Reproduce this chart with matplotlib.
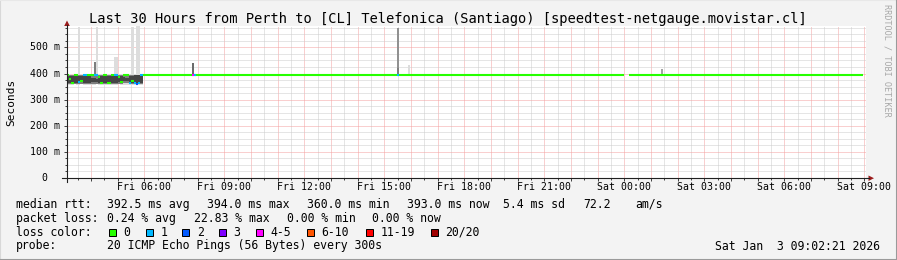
import matplotlib
matplotlib.use("Agg")
import matplotlib.pyplot as plt
from matplotlib.lines import Line2D
from matplotlib.patches import Rectangle, Polygon
from matplotlib.ticker import MultipleLocator, FixedLocator

W, H, DPI = 897, 260, 100
MONO = "DejaVu Sans Mono"

# ---------------- data (hours since Fri 00:00, latency in ms) ----------------
STEP_H = 5 / 60
X_START, X_END = 3.10, 33.064
Y_MAX_MS = 582

early_start = 3.10
early_median = [393, 378, 362, 393, 393, 368, 372, 393, 393, 393,
                393, 393, 393, 393, 385, 362, 393, 393, 362, 362,
                393, 393, 393, 385, 368, 393, 393, 393, 362, 372,
                362, 360, 362, 393]
early_loss = [0, 0, 0, 0, 0, 1, 0, 1, 1, 0,
              0, 0, 1, 1, 0, 0, 0, 0, 0, 0,
              0, 1, 1, 0, 0, 0, 0, 0, 1, 0,
              1, 2, 1, 1]
early_min = [358, 357, 358, 359, 358, 358, 359, 358, 358, 358,
             357, 358, 358, 359, 358, 358, 357, 358, 358, 358,
             358, 358, 358, 359, 358, 358, 358, 358, 358, 358,
             357, 356, 357, 358]
early_max = [397, 397, 396, 397, 397, 578, 397, 397, 397, 397,
             397, 397, 444, 578, 397, 397, 397, 397, 397, 397,
             397, 463, 463, 397, 397, 397, 397, 397, 397, 580,
             397, 582, 582, 397]
early_mid_lo = [360, 359, 360, 361, 360, 360, 361, 360, 360, 360,
                359, 360, 360, 361, 360, 360, 359, 360, 360, 360,
                360, 360, 360, 361, 360, 362, 364, 364, 360, 360,
                359, 358, 359, 360]
early_mid_hi = [395, 395, 394, 395, 395, 395, 394, 395, 395, 395,
                395, 395, 444, 395, 394, 395, 395, 395, 394, 395,
                395, 395, 395, 395, 394, 394, 392, 392, 395, 395,
                395, 396, 396, 395]
early_core_lo = [363, 362, 364, 365, 363, 363, 366, 363, 363, 364,
                 362, 366, 366, 366, 364, 363, 362, 364, 363, 363,
                 364, 363, 363, 366, 365, 370, 370, 370, 363, 365,
                 362, 361, 362, 363]
early_core_hi = [392, 391, 390, 392, 392, 391, 389, 392, 392, 392,
                 391, 382, 382, 380, 390, 392, 392, 392, 390, 391,
                 392, 392, 392, 390, 389, 386, 384, 384, 392, 390,
                 393, 393, 393, 392]

steady_start = [5.933, 24.17]
steady_end = [24.00, 32.95]
steady_median = [393, 393]
steady_loss = [0, 0]

event_time = [7.77, 7.85, 15.47]
event_median = [393, 393, 393]
event_loss = [4, 1, 1]

spike_time = [7.77, 15.47, 15.47, 15.87, 25.37]
spike_lo = [393, 393, 393, 393, 393]
spike_hi = [439, 575, 420, 434, 419]
spike_layer = [7, 5, 6, 1, 4]

x_tick_hours = [6, 9, 12, 15, 18, 21, 24, 27, 30, 33]
x_tick_labels = ["Fri 06:00", "Fri 09:00", "Fri 12:00", "Fri 15:00", "Fri 18:00",
                 "Fri 21:00", "Sat 00:00", "Sat 03:00", "Sat 06:00", "Sat 09:00"]
y_ticks = [0, 100, 200, 300, 400, 500]
y_tick_labels = ["0  ", "100 m", "200 m", "300 m", "400 m", "500 m"]

loss_max = [0, 1, 2, 3, 5, 10, 19, 20]
loss_labels = ["0", "1", "2", "3", "4-5", "6-10", "11-19", "20/20"]
loss_colors = ["#26ff00", "#00b8ff", "#0059ff", "#7e00ff",
               "#ff00ff", "#ff5500", "#ff0000", "#a00000"]

rtt_stats = ["392.5 ms avg", "394.0 ms max", "360.0 ms min", "393.0 ms now",
             "5.4 ms sd", "72.2", "am/s"]
loss_stats = ["0.24 % avg", "22.83 % max", "0.00 % min", "0.00 % now"]
probe_text = "20 ICMP Echo Pings (56 Bytes) every 300s"
stamp_text = "Sat Jan  3 09:02:21 2026"
title_text = "Last 30 Hours from Perth to [CL] Telefonica (Santiago) [speedtest-netgauge.movistar.cl]"


def loss_color(n):
    for lim, c in zip(loss_max, loss_colors):
        if n <= lim:
            return c
    return loss_colors[-1]


def smoke_gray(layer):
    g = int(190 / 10 * (10 - layer)) + 50
    return "#%02x%02x%02x" % (g, g, g)


# ---------------- figure ----------------
fig = plt.figure(figsize=(W / DPI, H / DPI), dpi=DPI, facecolor="#f3f3f3")

def px(x, y):
    return x / W, 1 - y / H

L, R, T, B = 67, 866, 26, 178
ax = fig.add_axes([L / W, 1 - B / H, (R - L) / W, (B - T) / H])
ax.set_facecolor("white")
ax.set_xlim(X_START, X_END)
ax.set_ylim(0, Y_MAX_MS)
for s in ax.spines.values():
    s.set_visible(False)

# grid
ax.xaxis.set_major_locator(MultipleLocator(1))
ax.xaxis.set_minor_locator(MultipleLocator(0.5))
ax.yaxis.set_major_locator(FixedLocator(y_ticks))
ax.yaxis.set_minor_locator(MultipleLocator(25))
ax.grid(which="major", color="#f4a0a0", linestyle=(0, (1, 1)), linewidth=0.72)
ax.grid(which="minor", color="#cdcdcd", linestyle=(0, (1, 1)), linewidth=0.72)
ax.set_axisbelow(True)
ax.tick_params(which="both", labelbottom=False, labelleft=False, color="#444444",
               width=0.72)
ax.tick_params(which="major", length=2.5)
ax.tick_params(which="minor", length=1.5)

# smoke, early period
early_t = [early_start + i * STEP_H for i in range(len(early_median))]
ax.bar(early_t, [h - l for h, l in zip(early_max, early_min)], bottom=early_min,
       width=STEP_H, align="edge", color=smoke_gray(1), linewidth=0, antialiased=False)
ax.bar(early_t, [h - l for h, l in zip(early_mid_hi, early_mid_lo)], bottom=early_mid_lo,
       width=STEP_H, align="edge", color=smoke_gray(6), linewidth=0, antialiased=False)
ax.bar(early_t, [h - l for h, l in zip(early_core_hi, early_core_lo)], bottom=early_core_lo,
       width=STEP_H, align="edge", color=smoke_gray(9), linewidth=0, antialiased=False)
# smoke spikes later on
ax.bar(spike_time, [h - l for h, l in zip(spike_hi, spike_lo)], bottom=spike_lo,
       width=STEP_H, align="edge", color=[smoke_gray(k) for k in spike_layer],
       linewidth=0, antialiased=False)

# medians
MED_LW = 1.5
ax.hlines(early_median, early_t, [t + STEP_H for t in early_t],
          colors=[loss_color(n) for n in early_loss], linewidth=MED_LW, capstyle="butt")
ax.hlines(steady_median, steady_start, steady_end,
          colors=[loss_color(n) for n in steady_loss], linewidth=MED_LW, capstyle="butt")
ax.hlines(event_median, event_time, [t + STEP_H for t in event_time],
          colors=[loss_color(n) for n in event_loss], linewidth=MED_LW, capstyle="butt",
          zorder=3)

# tick labels
for h, lab in zip(x_tick_hours, x_tick_labels):
    ax.text(h, -8.5 / (B - T) * Y_MAX_MS, lab, ha="center", va="center",
            fontsize=7.1, family=MONO)
for v, lab in zip(y_ticks, y_tick_labels):
    ax.text(-7 / (R - L) * (X_END - X_START) + X_START, v, lab, ha="right", va="center",
            fontsize=7.1, family=MONO)

# axes lines and arrows
fig.add_artist(Line2D([px(62, B)[0], px(869, B)[0]], [px(62, B)[1]] * 2,
                      color="#202020", linewidth=0.8))
fig.add_artist(Line2D([px(L, 0)[0]] * 2, [px(L, 182)[1], px(L, 25)[1]],
                      color="#202020", linewidth=0.8))
fig.add_artist(Polygon([px(868.5, 175.5), px(868.5, 181), px(874, 178.2)],
                       closed=True, color="#9b1b1b", linewidth=0))
fig.add_artist(Polygon([px(64.2, 26), px(69.8, 26), px(67, 20.5)],
                       closed=True, color="#9b1b1b", linewidth=0))

# title / labels
fig.text(*px(448, 19), title_text, ha="center", va="center", fontsize=9.9, family=MONO)
fig.text(*px(11, 102), "Seconds", ha="center", va="center", rotation=90,
         fontsize=8, family=MONO)
fig.text(*px(887, 60), "RRDTOOL / TOBI OETIKER", ha="center", va="center",
         rotation=270, fontsize=6.1, family=MONO, color="#a8a8a8")

# legend
LFS = 8.3
fig.text(*px(16, 204.3), "median rtt:", va="center", fontsize=LFS, family=MONO)
for x, s in zip([107.3, 207.0, 306.7, 406.7, 503.3, 583.0, 635.0], rtt_stats):
    fig.text(*px(x, 204.3), s, va="center", fontsize=LFS, family=MONO)
fig.text(*px(16, 218.3), "packet loss:", va="center", fontsize=LFS, family=MONO)
for x, s in zip([107.3, 194.0, 286.7, 372.3], loss_stats):
    fig.text(*px(x, 218.3), s, va="center", fontsize=LFS, family=MONO)
fig.text(*px(16, 232.3), "loss color:", va="center", fontsize=LFS, family=MONO)
for bx, lab, col in zip([109, 145.7, 182.3, 219, 255.7, 306.7, 365.7, 430.7],
                        loss_labels, loss_colors):
    x0, y0 = px(bx, 235.5)
    fig.add_artist(Rectangle((x0, y0), 6.8 / W, 6.8 / H, facecolor=col,
                             edgecolor="black", linewidth=0.72))
    fig.text(*px(bx + 14.6, 232.3), lab, va="center", fontsize=LFS, family=MONO)
fig.text(*px(16, 246), "probe:", va="center", fontsize=LFS, family=MONO)
fig.text(*px(107.3, 246), probe_text, va="center", fontsize=LFS, family=MONO)
fig.text(*px(880, 246), stamp_text, ha="right", va="center", fontsize=LFS, family=MONO)

# frame
fig.add_artist(Line2D([0, 0], [0, 1], color="#d8d8d8", linewidth=1.5))
fig.add_artist(Line2D([0, 1], [1, 1], color="#e8e8e8", linewidth=1.5))
fig.add_artist(Line2D([1, 1], [0, 1], color="#9a9a9a", linewidth=1.5))
fig.add_artist(Line2D([0, 1], [0, 0], color="#9a9a9a", linewidth=1.5))

fig.savefig("out.png", dpi=DPI, facecolor=fig.get_facecolor())
